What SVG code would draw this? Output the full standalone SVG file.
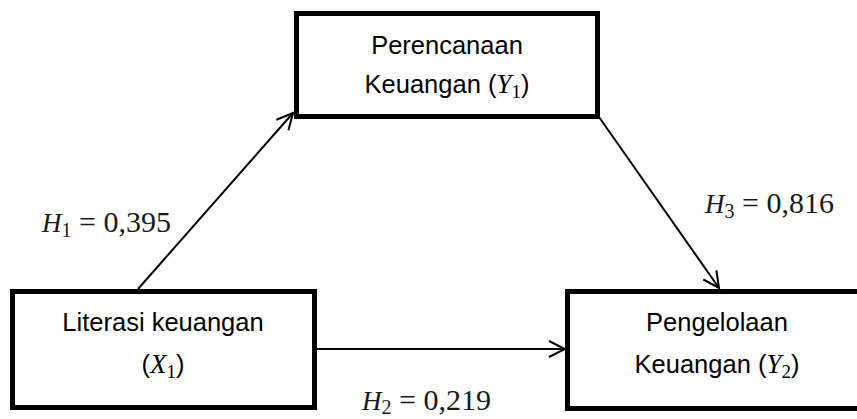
<svg xmlns="http://www.w3.org/2000/svg" width="857" height="419" viewBox="0 0 857 419">
<style>
.box{fill:#fff;stroke:#000;stroke-width:5}
.t{font-family:"Liberation Sans",Arial,sans-serif;font-size:25.5px;fill:#000;text-anchor:middle}
.m{font-family:"Liberation Serif","Times New Roman",serif;font-style:italic;font-size:27px}
.s{font-family:"Liberation Serif","Times New Roman",serif;font-size:19px}
.lab{font-family:"Liberation Serif","Times New Roman",serif;font-size:30px;fill:#1a1a1a}
.c{stroke:#000;stroke-width:2;fill:none}
</style>
<defs>
<marker id="ah" viewBox="0 0 20 20" refX="18" refY="10" markerWidth="20" markerHeight="20" markerUnits="userSpaceOnUse" orient="auto">
<path d="M2,2 L18,10 L2,18" fill="none" stroke="#000" stroke-width="2"/>
</marker>
</defs>
<g id="connectors">
<line class="c" x1="138" y1="289" x2="293" y2="113" marker-end="url(#ah)"/>
<line class="c" x1="316" y1="349" x2="565" y2="349" marker-end="url(#ah)"/>
<line class="c" x1="599" y1="117" x2="719" y2="288" marker-end="url(#ah)"/>
</g>
<g id="perencanaan">
<rect class="box" x="296.5" y="13.5" width="301" height="103"/>
<text class="t" x="447" y="54">Perencanaan</text>
<text class="t" x="447" y="93">Keuangan (<tspan class="m">Y</tspan><tspan class="s" dy="5">1</tspan><tspan dy="-5">)</tspan></text>
</g>
<g id="literasi">
<rect class="box" x="12.5" y="291.5" width="302" height="116"/>
<text class="t" x="163" y="331">Literasi keuangan</text>
<text class="t" x="163" y="373">(<tspan class="m">X</tspan><tspan class="s" dy="5">1</tspan><tspan dy="-5">)</tspan></text>
</g>
<g id="pengelolaan">
<rect class="box" x="567.5" y="291.5" width="300" height="117"/>
<text class="t" x="717" y="331">Pengelolaan</text>
<text class="t" x="717" y="373">Keuangan (<tspan class="m">Y</tspan><tspan class="s" dy="5">2</tspan><tspan dy="-5">)</tspan></text>
</g>
<g id="labels">
<text class="lab" x="42" y="232"><tspan class="m" font-size="31">H</tspan><tspan font-size="20" dy="5">1</tspan><tspan dy="-5"> = 0,395</tspan></text>
<text class="lab" x="362" y="410"><tspan class="m" font-size="31">H</tspan><tspan font-size="20" dy="4">2</tspan><tspan dy="-4"> = 0,219</tspan></text>
<text class="lab" x="705" y="213"><tspan class="m" font-size="31">H</tspan><tspan font-size="20" dy="5">3</tspan><tspan dy="-5"> = 0,816</tspan></text>
</g>
</svg>
